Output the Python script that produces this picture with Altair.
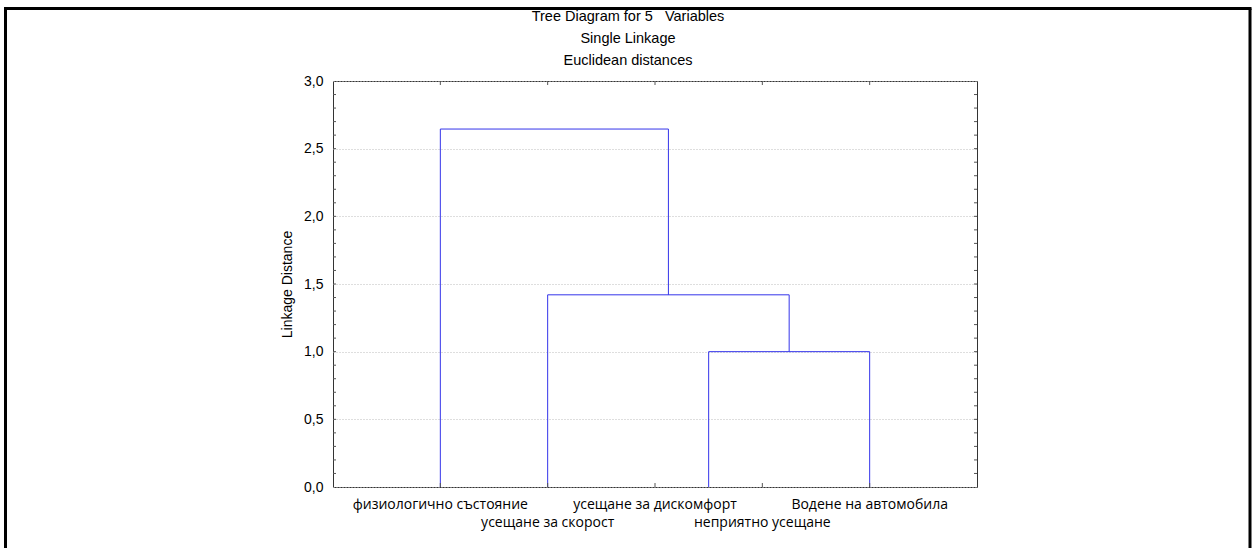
import altair as alt
import pandas as pd

# ---- data ----
leaf_labels = ["физиологично състояние", "усещане за скорост", "усещане за дискомфорт",
               "неприятно усещане", "Водене на автомобила"]
leaf_pos = [1, 2, 3, 4, 5]
# merges: (child a, child b, linkage distance); ids 0-4 are leaves, 5.. new clusters
merge_a = [2, 5, 1, 0]
merge_b = [3, 4, 6, 7]
merge_h = [0.0, 1.0, 1.42, 2.645]
title_lines = ["Tree Diagram for 5\u00a0\u00a0\u00a0Variables", "Single Linkage", "Euclidean distances"]
y_ticks_major = [0.0, 0.5, 1.0, 1.5, 2.0, 2.5, 3.0]
y_ticks_minor = [0.1, 0.2, 0.3, 0.4, 0.5, 0.6, 0.7, 0.8, 0.9, 1.0, 1.1, 1.2, 1.3, 1.4,
                 1.5, 1.6, 1.7, 1.8, 1.9, 2.0, 2.1, 2.2, 2.3, 2.4, 2.5, 2.6, 2.7, 2.8, 2.9]

# ---- build dendrogram segments ----
pos = {i: p for i, p in enumerate(leaf_pos)}
hgt = {i: 0.0 for i in range(len(leaf_pos))}
segs = []
for k, (a, b, h) in enumerate(zip(merge_a, merge_b, merge_h)):
    segs.append({"x": pos[a], "x2": pos[a], "y": hgt[a], "y2": h})
    segs.append({"x": pos[b], "x2": pos[b], "y": hgt[b], "y2": h})
    if h > 0:
        segs.append({"x": pos[a], "x2": pos[b], "y": h, "y2": h})
    nid = len(leaf_pos) + k
    pos[nid] = (pos[a] + pos[b]) / 2
    hgt[nid] = h
seg_df = pd.DataFrame(segs)

leaf_df = pd.DataFrame({"x": leaf_pos, "label": leaf_labels})
row1 = leaf_df.iloc[0::2]
row2 = leaf_df.iloc[1::2]
minor_df = pd.DataFrame({"y": y_ticks_minor})

W, H = 644, 406
PL, PT = 333, 81

xs = alt.Scale(domain=[0, 6], nice=False, zero=False)
ys = alt.Scale(domain=[0, 3], nice=False)
y_axis = alt.Axis(
    title="Linkage Distance", values=y_ticks_major,
    labelExpr="replace(format(datum.value, '.1f'), '.', ',')",
    labelFont="Liberation Sans", labelFontSize=14, labelColor="#000",
    labelPadding=10, ticks=False, domain=False,
    grid=True, gridColor="#bdbdbd", gridDash=[1, 2], gridWidth=1,
    titleFont="Liberation Sans", titleFontSize=14, titleFontWeight="normal",
    titleColor="#000", titleX=287 - PL, titleY=H / 2, titleAngle=270,
    titleAlign="center", titleBaseline="middle",
)

BLUE = "#3434ea"

dendro = alt.Chart(seg_df).mark_rule(color=BLUE, strokeWidth=1).encode(
    x=alt.X("x:Q", scale=xs, axis=None),
    x2="x2:Q",
    y=alt.Y("y:Q", scale=ys, axis=y_axis),
    y2="y2:Q",
)

left_ticks = alt.Chart(minor_df).mark_rule(color="#555", strokeWidth=1).encode(
    y=alt.Y("y:Q", scale=ys, axis=y_axis), x=alt.value(0), x2=alt.value(3))
right_ticks = alt.Chart(minor_df).mark_rule(color="#555", strokeWidth=1).encode(
    y=alt.Y("y:Q", scale=ys, axis=y_axis), x=alt.value(W - 3), x2=alt.value(W))
top_ticks = alt.Chart(leaf_df).mark_rule(color="#555", strokeWidth=1).encode(
    x=alt.X("x:Q", scale=xs, axis=None), y=alt.value(0), y2=alt.value(4))
bot_ticks = alt.Chart(leaf_df).mark_rule(color="#555", strokeWidth=1).encode(
    x=alt.X("x:Q", scale=xs, axis=None), y=alt.value(H - 4), y2=alt.value(H))

lab1 = alt.Chart(row1).mark_text(font="Open Sans", fontSize=14, color="#000",
                                 baseline="middle", align="center").encode(
    x=alt.X("x:Q", scale=xs, axis=None), y=alt.value(505 - PT), text="label:N")
lab2 = alt.Chart(row2).mark_text(font="Open Sans", fontSize=14, color="#000",
                                 baseline="middle", align="center").encode(
    x=alt.X("x:Q", scale=xs, axis=None), y=alt.value(523 - PT), text="label:N")

one = alt.Data(values=[{"a": 1}])
titles = []
for i, t in enumerate(title_lines):
    titles.append(alt.Chart(one).mark_text(font="Liberation Sans", fontSize=14.5, color="#000",
                                           baseline="middle", align="center").encode(
        x=alt.value(628 - PL), y=alt.value(17 + 22 * i - PT), text=alt.value(t)))

fx1, fx2, fy1, fy2 = 5.5 - PL, 1250 - PL, 8.5 - PT, 548 - PT + 5
frame = [
    alt.Chart(one).mark_rule(color="#000", strokeWidth=3).encode(
        x=alt.value(fx1 - 1.5), x2=alt.value(fx2 + 1.5), y=alt.value(fy1)),
    alt.Chart(one).mark_rule(color="#000", strokeWidth=3).encode(
        x=alt.value(fx1), y=alt.value(fy1), y2=alt.value(fy2)),
    alt.Chart(one).mark_rule(color="#000", strokeWidth=3).encode(
        x=alt.value(fx2), y=alt.value(fy1), y2=alt.value(fy2)),
]

chart = alt.layer(
    dendro, left_ticks, right_ticks, top_ticks, bot_ticks, lab1, lab2, *titles, *frame
).properties(
    width=W, height=H,
    autosize=alt.AutoSizeParams(type="none"),
    padding={"left": PL, "top": PT, "right": 1253 - PL - W, "bottom": 548 - PT - H},
    background="#ffffff",
).configure_view(stroke="#333", strokeWidth=1)

chart.save("out.html", embed_options={"renderer": "svg", "actions": False})
